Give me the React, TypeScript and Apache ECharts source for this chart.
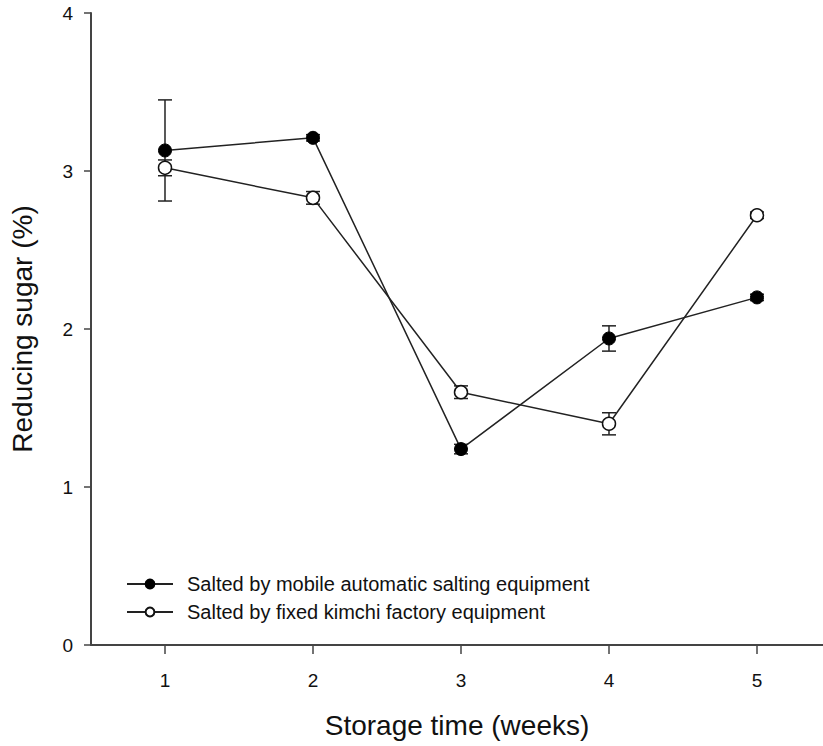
import React, { useEffect, useRef } from "react";
import * as echarts from "echarts";

const weeks = [1, 2, 3, 4, 5];
const mobileValues = [3.13, 3.21, 1.24, 1.94, 2.2];
const mobileErrors = [0.32, 0.02, 0.03, 0.08, 0.02];
const fixedValues = [3.02, 2.83, 1.6, 1.4, 2.72];
const fixedErrors = [0.05, 0.04, 0.04, 0.07, 0.02];
const yTicks = [0, 1, 2, 3, 4];
const seriesNames = [
  "Salted by mobile automatic salting equipment",
  "Salted by fixed kimchi factory equipment",
];

const FONT = "Liberation Sans, Arial, sans-serif";

function errorSeries(values: number[], errors: number[], id: string) {
  return {
    type: "custom",
    id,
    z: 1,
    silent: true,
    legendHoverLink: false,
    data: weeks.map((w, i) => [w, values[i], errors[i]]),
    renderItem: (params: any, api: any) => {
      const x = api.value(0);
      const y = api.value(1);
      const e = api.value(2);
      const top = api.coord([x, y + e]);
      const bot = api.coord([x, y - e]);
      const half = 7;
      const style = { stroke: "#222", lineWidth: 1.5 };
      return {
        type: "group",
        children: [
          { type: "line", shape: { x1: top[0], y1: top[1], x2: bot[0], y2: bot[1] }, style },
          { type: "line", shape: { x1: top[0] - half, y1: top[1], x2: top[0] + half, y2: top[1] }, style },
          { type: "line", shape: { x1: bot[0] - half, y1: bot[1], x2: bot[0] + half, y2: bot[1] }, style },
        ],
      };
    },
  };
}

export default function App() {
  const ref = useRef<HTMLDivElement>(null);
  useEffect(() => {
    if (!ref.current) return;
    document.body.style.margin = "0";
    const chart = echarts.init(ref.current, undefined, { renderer: "svg" });
    chart.setOption({
      animation: false,
      backgroundColor: "#ffffff",
      textStyle: { fontFamily: FONT },
      grid: { left: 91, top: 13, bottom: 101, right: 0, containLabel: false },
      legend: {
        orient: "vertical",
        left: 121,
        top: 569,
        itemWidth: 46,
        itemHeight: 11,
        itemGap: 8,
        textStyle: { fontFamily: FONT, fontSize: 20, color: "#111", padding: [0, 0, 0, 9] },
        data: seriesNames,
      },
      xAxis: {
        type: "value",
        min: 0.5,
        max: 5.446,
        interval: 0.5,
        name: "Storage time (weeks)",
        nameLocation: "middle",
        nameGap: 66,
        nameTextStyle: { fontFamily: FONT, fontSize: 28, color: "#111", padding: [0, 0, 0, 0] },
        axisLine: { show: true, lineStyle: { color: "#444", width: 2 } },
        axisTick: {
          show: true,
          length: 9,
          inside: false,
          lineStyle: { color: "#444", width: 1.5 },
          customValues: weeks,
        },
        axisLabel: {
          fontFamily: FONT,
          fontSize: 19,
          color: "#111",
          margin: 26,
          customValues: weeks,
        },
        splitLine: { show: false },
      },
      yAxis: {
        type: "value",
        min: 0,
        max: 4,
        interval: 1,
        name: "Reducing sugar (%)",
        nameLocation: "middle",
        nameGap: 55,
        nameTextStyle: { fontFamily: FONT, fontSize: 28, color: "#111" },
        axisLine: { show: true, lineStyle: { color: "#444", width: 2 } },
        axisTick: { show: true, length: 7, lineStyle: { color: "#444", width: 1.5 } },
        axisLabel: {
          fontFamily: FONT,
          fontSize: 19,
          color: "#111",
          margin: 18,
          customValues: yTicks,
        },
        splitLine: { show: false },
      },
      series: [
        errorSeries(mobileValues, mobileErrors, "errMobile"),
        errorSeries(fixedValues, fixedErrors, "errFixed"),
        {
          name: seriesNames[0],
          type: "line",
          z: 3,
          data: weeks.map((w, i) => [w, mobileValues[i]]),
          symbol: "circle",
          symbolSize: 13,
          showAllSymbol: true,
          lineStyle: { color: "#222", width: 1.5 },
          itemStyle: { color: "#000", borderColor: "#000", borderWidth: 1 },
        },
        {
          name: seriesNames[1],
          type: "line",
          z: 4,
          data: weeks.map((w, i) => [w, fixedValues[i]]),
          symbol: "circle",
          symbolSize: 13,
          showAllSymbol: true,
          lineStyle: { color: "#222", width: 1.5 },
          itemStyle: { color: "#fff", borderColor: "#111", borderWidth: 1.5 },
        },
      ],
    });
    return () => chart.dispose();
  }, []);
  return <div ref={ref} style={{ width: 823, height: 746 }} />;
}
